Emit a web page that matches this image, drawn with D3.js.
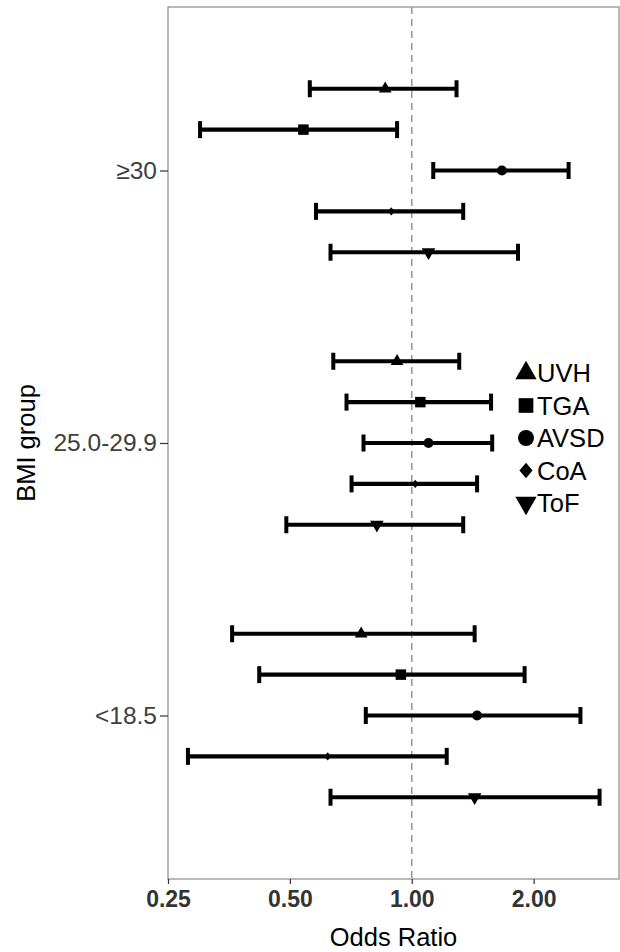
<!DOCTYPE html>
<html>
<head>
<meta charset="utf-8">
<script src="https://cdn.jsdelivr.net/npm/d3@7"></script>
<style>
  body { margin: 0; background: #fff; }
  svg { display: block; font-family: "Liberation Sans", Arial, sans-serif; }
</style>
</head>
<body>
<svg id="chart" width="620" height="952"></svg>
<script>
// BMI groups, bottom to top as on the axis
const groups = ['<18.5', '25.0-29.9', '≥30']
// defects, top to bottom inside each group
const defects = ['UVH', 'TGA', 'AVSD', 'CoA', 'ToF']
const xTicks = [0.25, 0.5, 1, 2]

// odds ratio and 95% CI, [group][defect]
const oddsRatio = [
	[0.75, 0.94, 1.45, 0.62, 1.43],
	[0.92, 1.05, 1.10, 1.02, 0.82],
	[0.86, 0.54, 1.67, 0.89, 1.10]
]
const lower = [
	[0.36, 0.42, 0.77, 0.28, 0.63],
	[0.64, 0.69, 0.76, 0.71, 0.49],
	[0.56, 0.30, 1.13, 0.58, 0.63]
]
const upper = [
	[1.43, 1.90, 2.61, 1.22, 2.91],
	[1.31, 1.57, 1.58, 1.45, 1.34],
	[1.29, 0.92, 2.44, 1.34, 1.83]
]

const svg = d3.select('#chart')
const panel = {left: 168, right: 619, top: 7, bottom: 879}

// x scale (log2)
const x = d3.scaleLog().base(2)
			.domain([0.25, 3.25])
			.range([panel.left, panel.right])

// y scale, discrete groups with ggplot-like 0.6 expansion
const y = d3.scalePoint()
			.domain(groups)
			.range([panel.bottom, panel.top])
			.padding(0.6)
const dodge = i => y.step() * 0.15 * (2 - i)

// shapes
const diamond = {
	draw(ctx, size){
		const r = Math.sqrt(size / 2)
		ctx.moveTo(0, -r); ctx.lineTo(r * 0.85, 0); ctx.lineTo(0, r); ctx.lineTo(-r * 0.85, 0); ctx.closePath()
	}
}
const shapes = [
	{type: d3.symbolTriangle, rot: 0},
	{type: d3.symbolSquare, rot: 0},
	{type: d3.symbolCircle, rot: 0},
	{type: diamond, rot: 0},
	{type: d3.symbolTriangle, rot: 180}
]
const pointSize = [70, 110, 80, 34, 80]
const legendSize = [195, 215, 200, 120, 195]

// panel border
svg.append('rect')
	.attr('x', panel.left).attr('y', panel.top)
	.attr('width', panel.right - panel.left).attr('height', panel.bottom - panel.top)
	.attr('fill', 'none').attr('stroke', '#8a8a8a').attr('stroke-width', 1.2)

// reference line at OR = 1
svg.append('line')
	.attr('x1', x(1)).attr('x2', x(1))
	.attr('y1', panel.top).attr('y2', panel.bottom)
	.attr('stroke', '#999').attr('stroke-width', 1.6)
	.attr('stroke-dasharray', '7,5')

// rows
const rows = []
groups.forEach((g, gi) => {
	defects.forEach((d, di) => {
		rows.push({group: g, di: di, est: oddsRatio[gi][di], lo: lower[gi][di], hi: upper[gi][di]})
	})
})
const rowY = d => y(d.group) - dodge(d.di)

const bars = svg.append('g').selectAll('g').data(rows).join('g')
bars.append('line')
	.attr('x1', d => x(d.lo)).attr('x2', d => x(d.hi))
	.attr('y1', rowY).attr('y2', rowY)
	.attr('stroke', '#000').attr('stroke-width', 4.2)
bars.append('line')
	.attr('x1', d => x(d.lo)).attr('x2', d => x(d.lo))
	.attr('y1', d => rowY(d) - 8.5).attr('y2', d => rowY(d) + 8.5)
	.attr('stroke', '#000').attr('stroke-width', 4)
bars.append('line')
	.attr('x1', d => x(d.hi)).attr('x2', d => x(d.hi))
	.attr('y1', d => rowY(d) - 8.5).attr('y2', d => rowY(d) + 8.5)
	.attr('stroke', '#000').attr('stroke-width', 4)
bars.append('path')
	.attr('d', d => d3.symbol(shapes[d.di].type, pointSize[d.di])())
	.attr('transform', d => 'translate(' + x(d.est) + ',' + rowY(d) + ') rotate(' + shapes[d.di].rot + ')')
	.attr('fill', '#000')

// x axis
const xAxis = svg.append('g')
	.attr('transform', 'translate(0,' + panel.bottom + ')')
	.call(d3.axisBottom(x).tickValues(xTicks).tickFormat(d3.format('.2f')).tickSize(5).tickPadding(7).tickSizeOuter(0))
xAxis.select('.domain').remove()
xAxis.selectAll('line').attr('stroke', '#333').attr('stroke-width', 1.2)
xAxis.selectAll('text')
	.attr('font-size', '23px').attr('font-weight', 'bold').attr('fill', '#333')
	.attr('font-family', '"Liberation Sans", Arial, sans-serif')

// y axis
const yAxis = svg.append('g')
	.attr('transform', 'translate(' + panel.left + ',0)')
	.call(d3.axisLeft(y).tickSize(8).tickPadding(3).tickSizeOuter(0))
yAxis.select('.domain').remove()
yAxis.selectAll('line').attr('stroke', '#333').attr('stroke-width', 1.2)
yAxis.selectAll('text')
	.attr('font-size', '24.5px').attr('fill', '#404040')
	.attr('font-family', '"Liberation Sans", Arial, sans-serif')

// axis titles
svg.append('text')
	.attr('x', (panel.left + panel.right) / 2).attr('y', 946)
	.attr('text-anchor', 'middle').attr('font-size', '25.5px').attr('fill', '#000')
	.text('Odds Ratio')
svg.append('text')
	.attr('transform', 'translate(35,' + (panel.top + panel.bottom) / 2 + ') rotate(-90)')
	.attr('text-anchor', 'middle').attr('font-size', '25.5px').attr('fill', '#000')
	.text('BMI group')

// legend
const legend = svg.append('g').attr('transform', 'translate(526,373)')
const items = legend.selectAll('g').data(defects).join('g')
	.attr('transform', (d, i) => 'translate(0,' + i * 32.5 + ')')
items.append('path')
	.attr('d', (d, i) => d3.symbol(shapes[i].type, legendSize[i])())
	.attr('transform', (d, i) => 'rotate(' + shapes[i].rot + ')')
	.attr('fill', '#000')
items.append('text')
	.attr('x', 11).attr('dy', '0.36em')
	.attr('font-size', '25.5px').attr('fill', '#000')
	.text(d => d)
</script>
</body>
</html>
